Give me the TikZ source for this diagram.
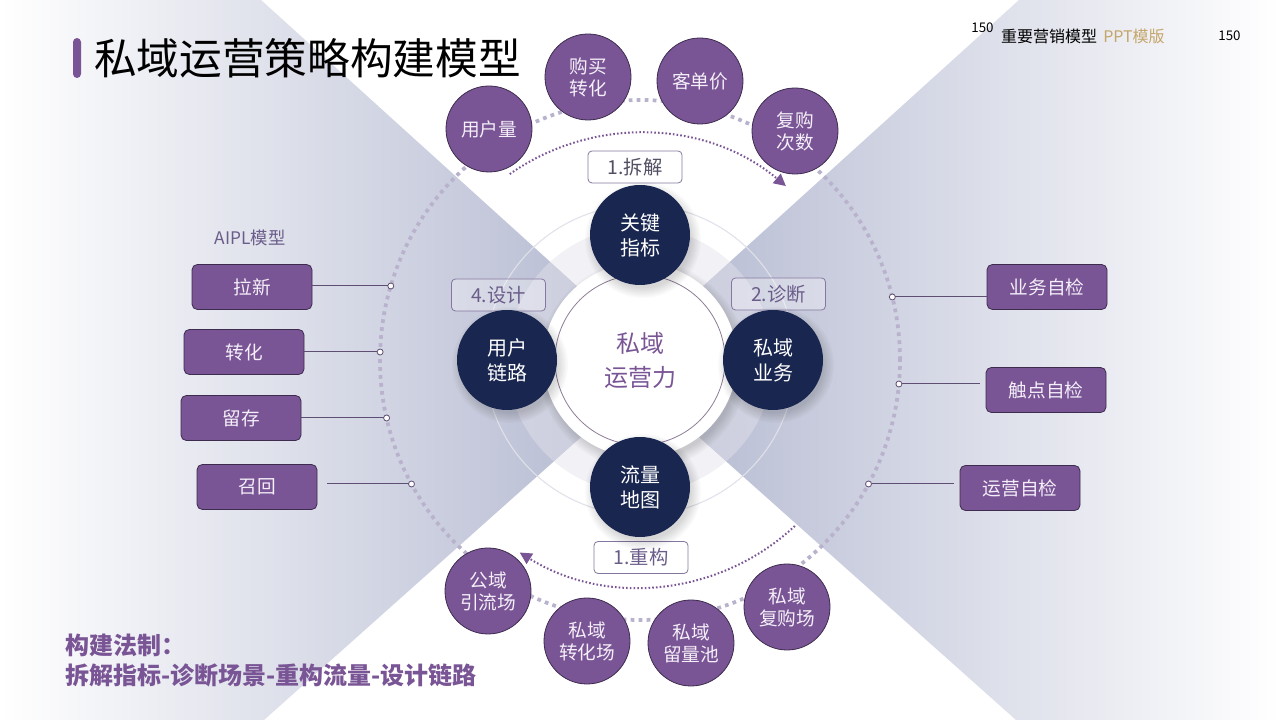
\documentclass[tikz,border=0pt]{standalone}
\usepackage{fontspec}
\setmainfont{Noto Sans CJK SC}
\usetikzlibrary{arrows.meta}
\definecolor{pur}{HTML}{7A5596}
\definecolor{purdark}{HTML}{3E2C4E}
\definecolor{navy}{HTML}{182650}
\definecolor{lav}{HTML}{B0B5CE}
\definecolor{dotgray}{HTML}{B9B2CC}
\definecolor{lbltext}{HTML}{6B5D8A}
\definecolor{lbldark}{HTML}{505062}
\definecolor{lblborder}{HTML}{8677A0}
\definecolor{gold}{HTML}{C4A66A}
\definecolor{conn}{HTML}{5E4E74}
\definecolor{ringline}{HTML}{E1E1EA}
\definecolor{ringfill}{HTML}{E4E4EC}
\definecolor{coreline}{HTML}{8E7C96}
\definecolor{softwhite}{HTML}{F4EFF8}
\newcommand{\softshadow}[3]{%
  \foreach \k in {0,...,7}{\fill[black,opacity=0.02] (#1+3,#2-5) circle ({#3+8-\k*1.4});}}
\tikzset{
  navyc/.style={circle, fill=navy, minimum size=75pt, text=white, align=center, font=\fontsize{15}{18.75}\selectfont},
  purc/.style={circle, fill=pur, draw=purdark, line width=0.6pt, minimum size=64.5pt, text=softwhite, align=center, font=\fontsize{14}{16.5}\selectfont},
  aiplbox/.style={rectangle, rounded corners=4pt, fill=pur, draw=purdark, line width=0.6pt, minimum width=90pt, minimum height=33.75pt, text=softwhite, font=\fontsize{14}{16}\selectfont},
  stepbox/.style={rectangle, rounded corners=3pt, draw=lblborder, line width=0.6pt, fill=white, fill opacity=0.3, text opacity=1, minimum width=70.5pt, minimum height=24pt, text=lbltext, font=\fontsize{14.5}{16}\selectfont},
  pin/.style={circle, draw=conn, fill=white, line width=0.6pt, minimum size=4.5pt},
  link/.style={conn, line width=0.75pt},
  flowarc/.style={pur, line width=1.5pt, dash pattern=on 1.2pt off 1.6pt, -{Triangle[length=9pt,width=9pt]}},
}
\begin{document}
\begin{tikzpicture}[x=0.75pt, y=0.75pt, every node/.style={inner sep=0pt, outer sep=0pt}]
\useasboundingbox (0,0) rectangle (1280,720);
\fill[white] (0,0) rectangle (1280,720);
% background wedges
\begin{scope}
  \clip (0,720) -- (261,720) -- (663,356) -- (264,0) -- (0,0) -- cycle;
  \shade[left color=white, middle color=lav!35!white, right color=lav] (0,0) rectangle (663,720);
\end{scope}
\begin{scope}
  \clip (1280,720) -- (1019,720) -- (617,356) -- (1016,0) -- (1280,0) -- cycle;
  \shade[left color=lav, middle color=lav!35!white, right color=white] (617,0) rectangle (1280,720);
\end{scope}
% central rings
\draw[ringline, line width=0.8pt] (640,360) circle (155);
\fill[ringfill, opacity=0.45] (640,360) circle (133);
% big dotted ring
\draw[dotgray, line width=2.8pt, dash pattern=on 2.8pt off 3.2pt] (640,360) circle (260);
% flow arcs
\draw[flowarc] (640,360) ++(125:227) arc[start angle=125, end angle=50, radius=227];
\draw[flowarc] (640,360) ++(-47:227) arc[start angle=-47, end angle=-122, radius=227];
% core
\softshadow{640}{360}{97}
\fill[white] (640,360) circle (97);
\node[circle, draw=coreline, line width=0.6pt, fill=white, minimum size=127.5pt, align=center, text=pur, font=\fontsize{18}{25.5}\selectfont] (core) at (640,360) {私域\\运营力};
% step labels
\node[stepbox, text=lbldark] (s1) at (635,553) {1.拆解};
\node[stepbox] (s2) at (778.5,426) {2.诊断};
\node[stepbox] (s3) at (641,162.5) {1.重构};
\node[stepbox] (s4) at (498.5,425) {4.设计};
% navy circles
\softshadow{640}{485}{50}
\softshadow{507}{360}{50}
\softshadow{773}{360}{50}
\softshadow{640}{233}{50}
\node[navyc] (kpi) at (640,485) {关键\\指标};
\node[navyc] (ulink) at (507,360) {用户\\链路};
\node[navyc] (biz) at (773,360) {私域\\业务};
\node[navyc] (flow) at (640,233) {流量\\地图};
% purple circles
\node[purc] (m1) at (489,591) {用户量};
\node[purc] (m2) at (588,643) {购买\\转化};
\node[purc] (m3) at (700,639) {客单价};
\node[purc] (m4) at (795,589) {复购\\次数};
\node[purc] (p1) at (488,129) {公域\\引流场};
\node[purc] (p2) at (587,79) {私域\\转化场};
\node[purc] (p3) at (691,77) {私域\\留量池};
\node[purc] (p4) at (787,113) {私域\\复购场};
% AIPL side
\node[text=lbltext, font=\fontsize{13}{13}\selectfont] (aipl) at (250,482) {AIPL模型};
\node[aiplbox] (a1) at (252,433) {拉新};
\node[aiplbox] (a2) at (244,368) {转化};
\node[aiplbox] (a3) at (241,302) {留存};
\node[aiplbox] (a4) at (257,233) {召回};
\node[pin] (d1) at (390.8,434) {};
\node[pin] (d2) at (380.1,368) {};
\node[pin] (d3) at (386.6,302) {};
\node[pin] (d4) at (411.5,236) {};
\draw[link] (a1.east |- d1) -- (d1);
\draw[link] (a2.east |- d2) -- (d2);
\draw[link] (a3.east |- d3) -- (d3);
\draw[link, shorten <=7.5pt] (a4.east |- d4) -- (d4);
% check side
\node[aiplbox] (c1) at (1047,433) {业务自检};
\node[aiplbox] (c2) at (1046,330) {触点自检};
\node[aiplbox] (c3) at (1020,232) {运营自检};
\node[pin] (e1) at (892.3,423) {};
\node[pin] (e2) at (898.9,336) {};
\node[pin] (e3) at (868.5,236) {};
\draw[link] (e1) -- (c1.west |- e1);
\draw[link, shorten >=4.5pt] (e2) -- (c2.west |- e2);
\draw[link, shorten >=4.5pt] (e3) -- (c3.west |- e3);
% title
\fill[pur, rounded corners=3pt] (73,642) rectangle (81,682);
\node[anchor=west, font=\fontsize{32}{32}\selectfont, text=black] (title) at (94,662) {私域运营策略构建模型};
% header
\node[font=\fontsize{10}{10}\selectfont] (pg1) at (982.5,692) {150};
\node[font=\fontsize{12}{12}\selectfont] (brand) at (1049,684) {重要营销模型};
\node[font=\fontsize{12}{12}\selectfont, text=gold] (tpl) at (1134,684) {PPT模版};
\node[font=\fontsize{10}{10}\selectfont] (pg2) at (1229.5,684) {150};
% bottom law
\node[anchor=west, font=\bfseries\fontsize{18}{18}\selectfont, text=pur] (law1) at (65,75) {构建法制：};
\node[anchor=west, font=\bfseries\fontsize{18}{18}\selectfont, text=pur] (law2) at (65,45) {拆解指标-诊断场景-重构流量-设计链路};
\end{tikzpicture}
\end{document}
